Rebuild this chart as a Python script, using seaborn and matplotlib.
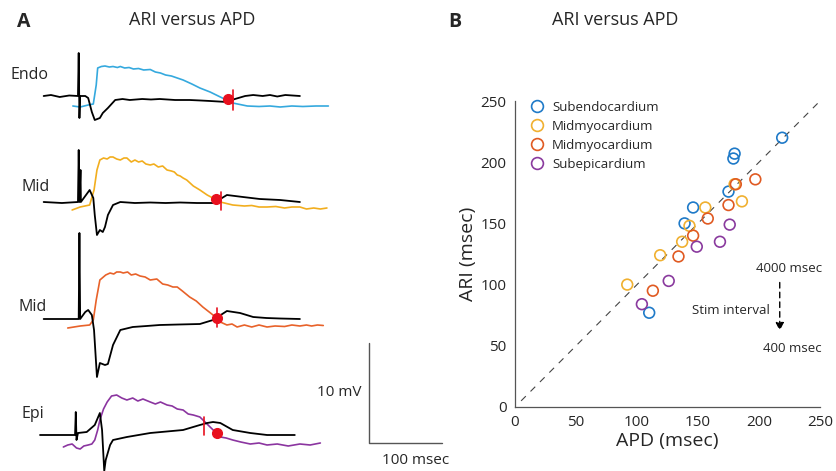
import pandas as pd
import seaborn as sns
import matplotlib.pyplot as plt
from matplotlib.lines import Line2D

sns.set_style("white")
plt.rcParams["font.family"] = ["Open Sans", "DejaVu Sans"]

# ---- Panel B data: APD vs ARI (msec) ----
subendo_apd = [219, 180, 179, 175, 146, 139, 110]
subendo_ari = [220, 207, 203, 176, 163, 150, 77]
mid1_apd = [92, 119, 137, 143, 156, 180, 186]
mid1_ari = [100, 124, 135, 148, 163, 182, 168]
mid2_apd = [113, 134, 146, 158, 175, 181, 197]
mid2_ari = [95, 123, 140, 154, 165, 182, 186]
subepi_apd = [104, 126, 149, 168, 176]
subepi_ari = [84, 103, 131, 135, 149]
legend_labels = ["Subendocardium", "Midmyocardium", "Midmyocardium", "Subepicardium"]
ticks_b = [0, 50, 100, 150, 200, 250]

# ---- Panel A data: traces (time msec, voltage mV relative to baseline) ----
endo_black_t = [5, 15, 27, 40, 52, 53, 54, 55, 62, 66, 71, 75, 82, 86, 93, 103, 113, 123, 140, 152, 164, 185, 205, 220, 233, 256, 267, 281, 292, 305, 315, 325, 336, 346, 356]
endo_black_v = [0, 0.1, -0.1, 0.05, 0, 4.3, -2.2, 0, 0, -0.2, -1.6, -2.4, -2.2, -1.7, -1.2, -0.4, -0.3, -0.4, -0.3, -0.35, -0.3, -0.4, -0.4, -0.45, -0.5, -0.6, -0.3, 0, 0.1, 0, 0.1, -0.05, 0.1, 0.05, 0]
endo_col_t = [45, 55, 66, 73, 77, 79, 84, 89, 95, 100, 106, 110, 116, 122, 128, 135, 142, 151, 158, 165, 172, 180, 188, 196, 208, 219, 233, 247, 264, 284, 300, 315, 329, 345, 360, 378, 395]
endo_col_v = [-1.0, -1.1, -0.9, -0.8, 1.1, 2.8, 2.95, 3.0, 2.9, 2.95, 2.85, 2.95, 2.8, 2.85, 2.7, 2.75, 2.6, 2.65, 2.4, 2.3, 2.1, 2.0, 1.8, 1.6, 1.2, 0.8, 0.4, -0.1, -0.7, -1.0, -1.05, -1.0, -1.1, -1.0, -1.05, -1.0, -1.0]
endo_dot = (258, -0.3)
endo_tick = (264, 0.6, -1.4)

mid1_black_t = [5, 30, 52, 53, 54, 55.5, 56, 63, 68, 73, 75, 78, 82, 86, 89, 93, 100, 110, 130, 151, 172, 192, 215, 237, 247, 256, 278, 301, 329, 356]
mid1_black_v = [0, -0.1, 0, 5.2, 0, 3.2, 0, 0.7, 1.2, 0.4, -1.3, -3.3, -2.8, -3.0, -2.5, -1.3, -0.3, 0, -0.1, -0.05, -0.1, -0.05, -0.1, -0.1, 0.3, 0.7, 0.5, 0.3, 0.2, 0]
mid1_col_t = [44, 55, 68, 74, 78, 82, 87, 92, 96, 100, 105, 110, 115, 119, 125, 130, 135, 140, 145, 151, 156, 162, 168, 174, 180, 184, 188, 192, 196, 201, 210, 219, 229, 247, 264, 280, 290, 300, 311, 323, 335, 345, 356, 365, 375, 384, 393]
mid1_col_v = [-0.8, -0.5, -0.3, 1.2, 3.2, 4.2, 4.4, 4.3, 4.5, 4.5, 4.3, 4.2, 4.4, 4.4, 4.0, 4.2, 4.0, 4.1, 3.8, 3.7, 3.8, 3.5, 3.6, 3.2, 3.1, 3.0, 2.7, 2.6, 2.4, 2.2, 1.6, 1.2, 0.7, 0, -0.3, -0.4, -0.35, -0.5, -0.5, -0.45, -0.6, -0.5, -0.5, -0.7, -0.6, -0.7, -0.6]
mid1_dot = (241, 0.3)
mid1_tick = (248, 1.0, -0.8)

mid2_black_t = [5, 53, 54, 55, 62, 66, 71, 74, 78, 82, 89, 93, 100, 110, 127, 146, 164, 190, 219, 237, 256, 274, 292, 310, 329, 356]
mid2_black_v = [0, 0, 8.6, 0, 0.7, 0.9, 0.4, -1.1, -5.8, -4.4, -4.6, -4.5, -2.6, -1.1, -0.8, -0.7, -0.6, -0.55, -0.5, -0.1, 0.8, 0.6, 0.2, 0.1, 0.05, 0]
mid2_col_t = [38, 55, 68, 73, 77, 82, 90, 96, 101, 105, 110, 114, 120, 125, 131, 137, 144, 151, 160, 168, 175, 182, 188, 195, 205, 214, 223, 237, 247, 256, 263, 270, 280, 290, 300, 311, 322, 335, 345, 356, 365, 372, 380, 388]
mid2_col_v = [-0.9, -0.7, -0.6, -0.1, 1.9, 3.9, 4.4, 4.6, 4.5, 4.7, 4.7, 4.6, 4.7, 4.4, 4.5, 4.3, 4.2, 3.9, 4.0, 3.5, 3.4, 3.2, 3.2, 2.8, 2.2, 1.8, 1.2, 0.4, -0.3, -0.6, -0.5, -0.8, -0.6, -0.8, -0.6, -0.8, -0.7, -0.75, -0.6, -0.7, -0.6, -0.7, -0.6, -0.65]
mid2_dot = (242, 0.1)
mid2_tick = (242, 1.1, -0.8)

epi_black_t = [0, 48, 49, 50, 52, 64, 75, 82, 85, 88, 90, 96, 100, 119, 151, 196, 219, 229, 237, 247, 264, 288, 311, 349]
epi_black_v = [0, 0, 2.3, -0.5, 0.2, 0.3, 1.0, 2.2, 0.5, -3.6, -2.5, -1.0, -0.5, -0.2, 0.2, 0.5, 1.0, 1.2, 1.3, 1.2, 0.5, 0.2, 0, 0]
epi_col_t = [32, 38, 44, 50, 55, 60, 66, 71, 75, 79, 82, 87, 92, 98, 105, 112, 119, 127, 134, 141, 151, 158, 165, 174, 181, 188, 196, 203, 210, 219, 226, 233, 240, 247, 255, 264, 275, 288, 300, 311, 325, 340, 356, 370, 384]
epi_col_v = [-1.2, -1.0, -0.9, -1.3, -1.4, -1.1, -1.0, -0.9, -0.5, 0.5, 1.5, 2.6, 3.3, 3.9, 4.0, 3.7, 3.5, 3.7, 3.4, 3.6, 3.3, 3.1, 3.3, 3.0, 2.9, 2.6, 2.5, 2.1, 2.0, 1.8, 1.3, 0.8, 0.3, -0.2, -0.3, -0.5, -0.7, -0.9, -0.8, -1.0, -0.9, -1.1, -0.9, -1.0, -0.8]
epi_dot = (242, 0.2)
epi_tick = (225, 1.8, 0.0)

trace_names = ["Endo", "Mid", "Mid", "Epi"]
trace_label_t = [-41, -25, -29, -25]
trace_label_dv = [2.1, 1.5, 1.2, 2.1]
trace_offsets = [37.5, 26.9, 15.2, 3.6]
trace_colors = ["#35A9DE", "#F2AE1E", "#E8622A", "#8B35A0"]
scatter_colors = ["#1F7AC8", "#F0B030", "#E05A22", "#8A3A9E"]

fig = plt.figure(figsize=(8.36, 4.71), dpi=100)

# ---------------- Panel A ----------------
axa = fig.add_axes([0, 0, 460 / 836, 431 / 471])
traces = [
    (endo_black_t, endo_black_v, endo_col_t, endo_col_v, endo_dot, endo_tick),
    (mid1_black_t, mid1_black_v, mid1_col_t, mid1_col_v, mid1_dot, mid1_tick),
    (mid2_black_t, mid2_black_v, mid2_col_t, mid2_col_v, mid2_dot, mid2_tick),
    (epi_black_t, epi_black_v, epi_col_t, epi_col_v, epi_dot, epi_tick),
]
for i, (bt, bv, ct, cv, dot, tick) in enumerate(traces):
    off = trace_offsets[i]
    dcol = pd.DataFrame({"t": ct, "v": [v + off for v in cv]})
    dblk = pd.DataFrame({"t": bt, "v": [v + off for v in bv]})
    sns.lineplot(data=dcol, x="t", y="v", sort=False, estimator=None, color=trace_colors[i], lw=1.2, ax=axa)
    sns.lineplot(data=dblk, x="t", y="v", sort=False, estimator=None, color="black", lw=1.3, ax=axa)
    axa.plot([dot[0]], [dot[1] + off], "o", color="#E8101E", ms=7, zorder=5)
    axa.plot([tick[0], tick[0]], [tick[1] + off, tick[2] + off], color="#E8101E", lw=1.2, zorder=5)
    axa.text(trace_label_t[i], off + trace_label_dv[i], trace_names[i], fontsize=11.5, ha="left", va="center")

# scale bar: 100 msec, 10 mV
axa.plot([451, 451, 551], [12.8, 2.8, 2.8], color="#555555", lw=1.0)
axa.text(441, 7.9, "10 mV", fontsize=11, ha="right", va="center")
axa.text(514, 1.1, "100 msec", fontsize=11, ha="center", va="center")
axa.set_xlim(-54.8, 575.3)
axa.set_ylim(0, 43.1)
axa.axis("off")

# ---------------- Panel B ----------------
axb = fig.add_axes([515 / 836, (471 - 407) / 471, 305 / 836, 306 / 471])
rows = []
groups = [(subendo_apd, subendo_ari), (mid1_apd, mid1_ari), (mid2_apd, mid2_ari), (subepi_apd, subepi_ari)]
for gi, (xs, ys) in enumerate(groups):
    for x, y in zip(xs, ys):
        rows.append({"APD": x, "ARI": y, "group": gi})
df = pd.DataFrame(rows)

axb.plot([5, 250], [5, 250], color="#444444", lw=0.8, dashes=(6, 6))
sns.scatterplot(data=df, x="APD", y="ARI", hue="group", palette=scatter_colors,
                s=60, marker="o", legend=False, ax=axb, zorder=3)
coll = axb.collections[-1]
coll.set_edgecolors(coll.get_facecolors())
coll.set_facecolors("none")
coll.set_linewidths(1.2)

handles = [Line2D([], [], marker="o", ls="", mfc="none", mec=c, mew=1.2, ms=8.5) for c in scatter_colors]
axb.legend(handles, legend_labels, loc="upper left", bbox_to_anchor=(0.0, 1.03), frameon=False,
           fontsize=9.5, handletextpad=0.1, labelspacing=0.45, borderaxespad=0.3)

axb.set_xlim(0, 250)
axb.set_ylim(0, 250)
axb.set_xticks(ticks_b)
axb.set_yticks(ticks_b)
axb.tick_params(direction="in", length=5, color="#555555", labelsize=11, pad=6)
for side in ["top", "right"]:
    axb.spines[side].set_visible(False)
for side in ["left", "bottom"]:
    axb.spines[side].set_color("#555555")
    axb.spines[side].set_linewidth(0.9)
axb.set_xlabel("APD (msec)", fontsize=14, labelpad=1)
axb.set_ylabel("ARI (msec)", fontsize=14, labelpad=3)

# stimulation interval annotation
axb.annotate("", xy=(217, 60), xytext=(217, 104),
             arrowprops=dict(arrowstyle="-|>", color="black", lw=1.0, ls=(0, (4, 3)), mutation_scale=12))
axb.text(225, 113, "4000 msec", fontsize=9.5, ha="center", va="center")
axb.text(209, 79, "Stim interval", fontsize=9.5, ha="right", va="center")
axb.text(227, 48, "400 msec", fontsize=9.5, ha="center", va="center")

# titles and panel letters
fig.text(192 / 836, 1 - 20 / 471, "ARI versus APD", fontsize=13, ha="center", va="center")
fig.text(615 / 836, 1 - 20 / 471, "ARI versus APD", fontsize=13, ha="center", va="center")
fig.text(24 / 836, 1 - 22 / 471, "A", fontsize=14, fontweight="bold", ha="center", va="center")
fig.text(455 / 836, 1 - 22 / 471, "B", fontsize=14, fontweight="bold", ha="center", va="center")

fig.savefig("out.png", dpi=100)
